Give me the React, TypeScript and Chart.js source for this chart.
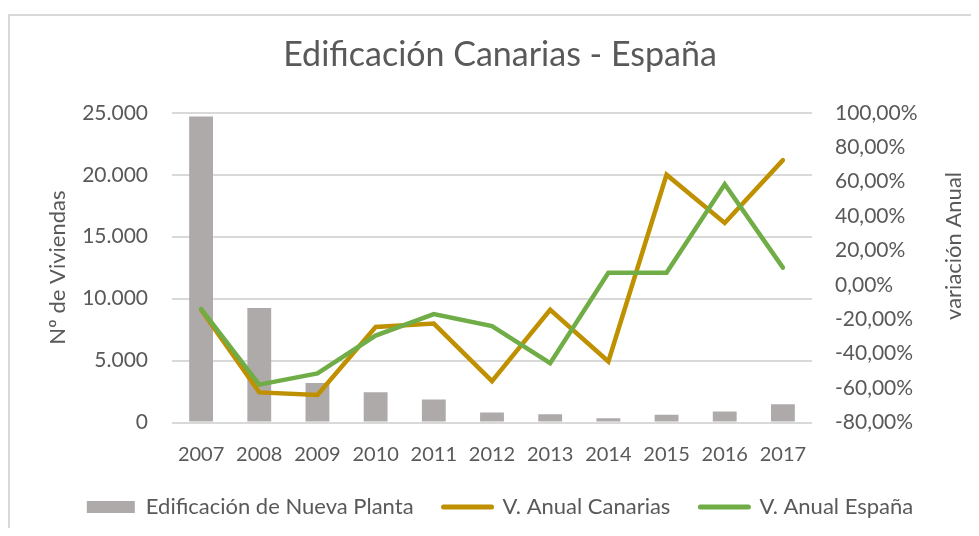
import React, { useEffect, useRef } from 'react';
import { Chart, registerables } from 'chart.js';

Chart.register(...registerables);

// ---- data ----
const years = ['2007', '2008', '2009', '2010', '2011', '2012', '2013', '2014', '2015', '2016', '2017'];
const nuevaPlanta = [24700, 9250, 3190, 2440, 1850, 810, 670, 340, 630, 890, 1480];
const varCanarias = [-14.5, -62.5, -64, -24.5, -22.5, -56, -14.5, -44.5, 64, 36, 72.5];
const varEspana = [-14, -58, -51.5, -29.5, -17, -24, -45.5, 7, 7, 58.5, 10];

const leftMin = 0;
const leftMax = 25000;
const leftStep = 5000;
const rightMin = -80;
const rightMax = 100;
const rightStep = 20;

const titleText = 'Edificación Canarias - España';
const leftTitle = 'Nº de Viviendas';
const rightTitle = 'variación Anual';
const seriesLabels = ['Edificación de Nueva Planta', 'V. Anual Canarias', 'V. Anual España'];

const TEXT = '#595959';
const FONT = 'Lato';

const fmtThousands = (v: number) =>
  Math.round(v).toString().replace(/\B(?=(\d{3})+(?!\d))/g, '.');
const fmtPct = (v: number) => v.toFixed(2).replace('.', ',') + '%';

export default function App() {
  const ref = useRef<HTMLCanvasElement>(null);

  useEffect(() => {
    if (!ref.current) return;
    Chart.defaults.font.family = FONT;
    Chart.defaults.color = TEXT;

    const framePlugin = {
      id: 'frame',
      beforeDraw(chart: any) {
        const ctx = chart.ctx;
        ctx.save();
        ctx.fillStyle = '#ffffff';
        ctx.fillRect(0, 0, chart.width, chart.height);
        ctx.fillStyle = '#D9D9D9';
        ctx.fillRect(0, 6, chart.width, 2);
        ctx.fillRect(0, 6, 2, chart.height);
        ctx.restore();
      },
      afterDraw(chart: any) {
        const s = chart.scales.y1;
        const ctx = chart.ctx;
        ctx.save();
        ctx.translate(s.right - 38, s.top + (s.bottom - s.top) * 0.43);
        ctx.rotate(-Math.PI / 2);
        ctx.textAlign = 'center';
        ctx.textBaseline = 'middle';
        ctx.font = `22px ${FONT}`;
        ctx.fillStyle = TEXT;
        ctx.fillText(rightTitle, 0, 0);
        ctx.restore();
      },
    };

    const chart = new Chart(ref.current, {
      type: 'bar',
      data: {
        labels: years,
        datasets: [
          {
            type: 'bar',
            label: seriesLabels[0],
            data: nuevaPlanta,
            backgroundColor: '#AEAAAA',
            borderWidth: 0,
            yAxisID: 'y',
            order: 3,
            categoryPercentage: 0.41,
            barPercentage: 1,
          } as any,
          {
            type: 'line',
            label: seriesLabels[1],
            data: varCanarias,
            borderColor: '#BF9000',
            backgroundColor: '#BF9000',
            borderWidth: 4.5,
            pointRadius: 0,
            pointHoverRadius: 0,
            tension: 0,
            borderCapStyle: 'round',
            borderJoinStyle: 'miter',
            yAxisID: 'y1',
            order: 2,
          } as any,
          {
            type: 'line',
            label: seriesLabels[2],
            data: varEspana,
            borderColor: '#70AD47',
            backgroundColor: '#70AD47',
            borderWidth: 4.5,
            pointRadius: 0,
            pointHoverRadius: 0,
            tension: 0,
            borderCapStyle: 'round',
            borderJoinStyle: 'miter',
            yAxisID: 'y1',
            order: 1,
          } as any,
        ],
      },
      options: {
        animation: false,
        responsive: true,
        maintainAspectRatio: false,
        layout: { padding: { left: 0, right: 0, top: 0, bottom: 20 } },
        plugins: {
          tooltip: { enabled: false },
          title: {
            display: true,
            text: titleText,
            color: TEXT,
            font: { family: FONT, size: 34, weight: 'normal' },
            padding: { top: 27, bottom: 37 },
          },
          legend: {
            position: 'bottom',
            labels: {
              usePointStyle: true,
              pointStyleWidth: 48,
              boxHeight: 12,
              padding: 30,
              color: TEXT,
              font: { family: FONT, size: 22 },
              generateLabels(chart: any) {
                const items = Chart.defaults.plugins.legend.labels.generateLabels(chart);
                items.forEach((it: any) => {
                  if (it.datasetIndex === 0) {
                    it.pointStyle = 'rect';
                    it.lineWidth = 0;
                  } else {
                    it.pointStyle = 'line';
                    it.lineWidth = 5;
                    it.lineCap = 'round';
                  }
                });
                return items.sort((a: any, b: any) => a.datasetIndex - b.datasetIndex);
              },
            },
          },
        },
        scales: {
          x: {
            grid: { display: false, drawTicks: false },
            border: { display: false },
            ticks: { color: TEXT, font: { family: FONT, size: 20 }, padding: 20 },
            afterFit(s: any) {
              s.height = 43.5;
            },
          },
          y: {
            position: 'left',
            min: leftMin,
            max: leftMax,
            grid: { color: '#D9D9D9', lineWidth: 2, drawTicks: false },
            border: { display: false },
            ticks: {
              stepSize: leftStep,
              padding: 24,
              color: TEXT,
              font: { family: FONT, size: 21 },
              callback: (v: any) => fmtThousands(Number(v)),
            },
            title: {
              display: true,
              text: leftTitle,
              color: TEXT,
              font: { family: FONT, size: 22 },
              padding: { top: 37, bottom: 0 },
            },
            afterFit(s: any) {
              s.width = 164;
            },
          },
          y1: {
            position: 'right',
            min: rightMin,
            max: rightMax,
            grid: { display: false, drawTicks: false },
            border: { display: false },
            ticks: {
              stepSize: rightStep,
              padding: 23,
              color: TEXT,
              font: { family: FONT, size: 21 },
              callback: (v: any) => fmtPct(Number(v)),
            },
            afterFit(s: any) {
              s.width = 180;
            },
          },
        },
      } as any,
      plugins: [framePlugin],
    });

    return () => chart.destroy();
  }, []);

  return (
    <div style={{ width: 963, height: 520, overflow: 'hidden' }}>
      <div style={{ position: 'relative', width: 984, height: 540 }}>
        <canvas ref={ref} />
      </div>
    </div>
  );
}
